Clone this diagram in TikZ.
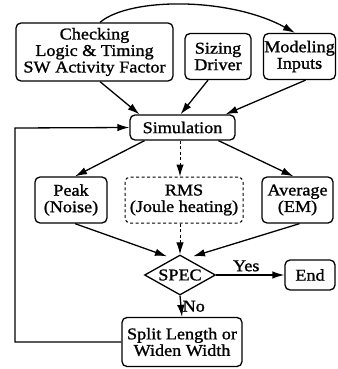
\documentclass[tikz,border=0pt]{standalone}
\usepackage{fontspec}
\setmainfont{Liberation Serif}[FakeStretch=1.1, FakeBold=1.2]
\usetikzlibrary{shapes.geometric,arrows.meta,calc}
\begin{document}
\begin{tikzpicture}[x=1pt,y=-1pt,
  every node/.style={font=\fontsize{16.5}{16.5}\selectfont, align=center, inner sep=0pt},
  box/.style={draw, line width=1.3pt, rounded corners=5pt},
  conn/.style={line width=1.3pt, -{Latex[length=12pt,width=7.5pt]}},
  dconn/.style={conn, dash pattern=on 3pt off 2.5pt},
]
\useasboundingbox (0,0) rectangle (337,369);
\node[box, minimum width=157pt, minimum height=58pt] (chk) at (94.5,52) {Checking\\Logic \& Timing\\SW Activity Factor};
\node[box, minimum width=66pt, minimum height=46pt] (siz) at (218,56.5) {Sizing\\Driver};
\node[box, minimum width=72pt, minimum height=46pt] (mod) at (299.5,56.5) {Modeling\\Inputs};
\node[box, minimum width=105pt, minimum height=25pt] (sim) at (182.5,127.5) {Simulation};
\node[box, minimum width=72pt, minimum height=46pt] (peak) at (71,200) {Peak\\(Noise)};
\node[box, line width=1pt, dash pattern=on 3pt off 2.5pt, minimum width=118pt, minimum height=46pt] (rms) at (184,200) {RMS\\(Joule heating)};
\node[box, minimum width=71pt, minimum height=46pt] (avg) at (297.5,200) {Average\\(EM)};
\node[draw, line width=1.3pt, diamond, aspect=1.75, minimum width=71pt, minimum height=40pt] (spec) at (180,275) {SPEC};
\node[box, minimum width=50pt, minimum height=30pt] (end) at (310,275) {End};
\node[box, minimum width=120pt, minimum height=49pt] (split) at (182,342) {Split Length or\\Widen Width};
\coordinate (lt) at (15,128);
\coordinate (lb) at (15,342);

\draw[conn] ($(chk.north)+(5.5,0)$) .. controls (130,-3) and (230,-3) .. ($(mod.north)+(-4.5,0)$);
\draw[conn] ($(chk.south)+(5.5,0)$) -- ($(sim.north)+(-43,0)$);
\draw[conn] ($(siz.south)+(-10,0)$) -- ($(sim.north)+(-2,0)$);
\draw[conn] ($(mod.south)+(6,0)$) -- ($(sim.north)+(43,0)$);
\draw[conn] ($(sim.south)+(-38,0)$) -- ($(peak.north)+(4,0)$);
\draw[dconn, line width=1pt] ($(sim.south)+(-2.5,0)$) -- ($(rms.north)+(-4,0)$);
\draw[conn] ($(sim.south)+(36,0)$) -- ($(avg.north)+(-4,0)$);
\draw[conn] ($(peak.south)+(4,0)$) -- ($(spec.north)+(-13,2)$);
\draw[dconn, line width=1pt] ($(rms.south)+(-4,0)$) -- (spec.north);
\draw[conn] ($(avg.south)+(2,0)$) -- ($(spec.north)+(13,2)$);
\draw[conn] (spec.east) -- (end.west) node[midway, above=3pt, xshift=-4pt] (yes) {Yes};
\draw[conn] (spec.south) -- (split.north) node[midway, right=1pt] (no) {No};
\draw[conn] (split.west) -- (lb) -- (lt) -- (sim.west);
\end{tikzpicture}
\end{document}
